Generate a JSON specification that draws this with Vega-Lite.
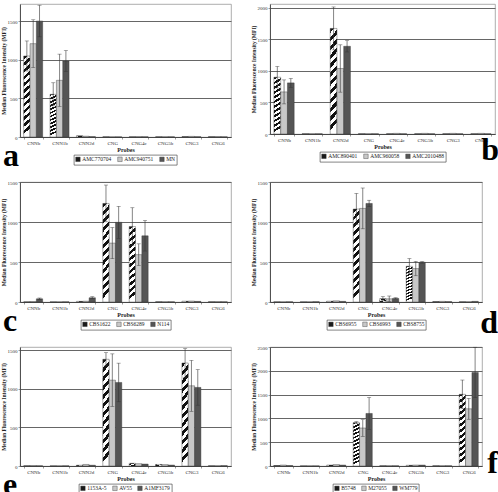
{
"$schema": "https://vega.github.io/schema/vega-lite/v6.json",
"background": "white",
"padding": {"left": 1, "top": 3, "right": 0, "bottom": 0},
"autosize": {"type": "pad"},
"params": [{"name": "hatch", "value": {"gradient": "linear", "x1": 0, "y1": 0, "x2": 0.07, "y2": 1, "stops": [
{"offset": 0, "color": "#111"}, {"offset": 0.04167, "color": "#111"},
{"offset": 0.04167, "color": "#fff"}, {"offset": 0.08333, "color": "#fff"},
{"offset": 0.08333, "color": "#111"}, {"offset": 0.125, "color": "#111"},
{"offset": 0.125, "color": "#fff"}, {"offset": 0.16667, "color": "#fff"},
{"offset": 0.16667, "color": "#111"}, {"offset": 0.20833, "color": "#111"},
{"offset": 0.20833, "color": "#fff"}, {"offset": 0.25, "color": "#fff"},
{"offset": 0.25, "color": "#111"}, {"offset": 0.29167, "color": "#111"},
{"offset": 0.29167, "color": "#fff"}, {"offset": 0.33333, "color": "#fff"},
{"offset": 0.33333, "color": "#111"}, {"offset": 0.375, "color": "#111"},
{"offset": 0.375, "color": "#fff"}, {"offset": 0.41667, "color": "#fff"},
{"offset": 0.41667, "color": "#111"}, {"offset": 0.45833, "color": "#111"},
{"offset": 0.45833, "color": "#fff"}, {"offset": 0.5, "color": "#fff"},
{"offset": 0.5, "color": "#111"}, {"offset": 0.54167, "color": "#111"},
{"offset": 0.54167, "color": "#fff"}, {"offset": 0.58333, "color": "#fff"},
{"offset": 0.58333, "color": "#111"}, {"offset": 0.625, "color": "#111"},
{"offset": 0.625, "color": "#fff"}, {"offset": 0.66667, "color": "#fff"},
{"offset": 0.66667, "color": "#111"}, {"offset": 0.70833, "color": "#111"},
{"offset": 0.70833, "color": "#fff"}, {"offset": 0.75, "color": "#fff"},
{"offset": 0.75, "color": "#111"}, {"offset": 0.79167, "color": "#111"},
{"offset": 0.79167, "color": "#fff"}, {"offset": 0.83333, "color": "#fff"},
{"offset": 0.83333, "color": "#111"}, {"offset": 0.875, "color": "#111"},
{"offset": 0.875, "color": "#fff"}, {"offset": 0.91667, "color": "#fff"},
{"offset": 0.91667, "color": "#111"}, {"offset": 0.95833, "color": "#111"},
{"offset": 0.95833, "color": "#fff"}, {"offset": 1, "color": "#fff"}
]}}],
"columns": 2,
"bounds": "flush",
"spacing": {"row": 45, "column": 39},
"resolve": {"scale": {"xOffset": "independent", "fill": "independent", "x": "independent", "y": "independent"}, "legend": {"fill": "independent"}},
"concat": [
{
 "width": 211, "height": 133,
 "title": {"text": "a", "orient": "bottom", "anchor": "start", "frame": "group", "dx": -17, "dy": -28},
 "data": {"values": [
  {"p":"CNNb","s":"AMC770704","v":1052,"lo":857,"hi":1247},
  {"p":"CNNb","s":"AMC940751","v":1212,"lo":902,"hi":1522},
  {"p":"CNNb","s":"MN","v":1506,"lo":1301,"hi":1711},
  {"p":"CNN1b","s":"AMC770704","v":554,"lo":404,"hi":704},
  {"p":"CNN1b","s":"AMC940751","v":736,"lo":396,"hi":1076},
  {"p":"CNN1b","s":"MN","v":987,"lo":852,"hi":1122},
  {"p":"CNN2d","s":"AMC770704","v":15},{"p":"CNN2d","s":"AMC940751","v":10},{"p":"CNN2d","s":"MN","v":5},
  {"p":"CNG","s":"AMC770704","v":3},{"p":"CNG","s":"AMC940751","v":2},{"p":"CNG","s":"MN","v":2},
  {"p":"CNG4c","s":"AMC770704","v":3},{"p":"CNG4c","s":"AMC940751","v":5},{"p":"CNG4c","s":"MN","v":3},
  {"p":"CNG5b","s":"AMC770704","v":3},{"p":"CNG5b","s":"AMC940751","v":3},{"p":"CNG5b","s":"MN","v":3},
  {"p":"CNG3","s":"AMC770704","v":5},{"p":"CNG3","s":"AMC940751","v":8},{"p":"CNG3","s":"MN","v":4},
  {"p":"CNG6","s":"AMC770704","v":4},{"p":"CNG6","s":"AMC940751","v":6},{"p":"CNG6","s":"MN","v":3}
 ]},
 "encoding": {
  "x": {"field": "p", "type": "nominal", "title": "Probes", "scale": {"domain": ["CNNb","CNN1b","CNN2d","CNG","CNG4c","CNG5b","CNG3","CNG6"], "paddingInner": 0.28, "paddingOuter": 0.14}},
  "xOffset": {"field": "s", "type": "nominal", "scale": {"domain": ["AMC770704","AMC940751","MN"]}}
 },
 "layer": [
  {"mark": {"type": "bar", "stroke": "#333", "strokeWidth": 0.4},
   "encoding": {
    "y": {"field": "v", "type": "quantitative", "stack": null, "title": "Median Fluorescence Intensity (MFI)", "scale": {"domain": [0, 1727], "nice": false}, "axis": {"values": [0, 500, 1000, 1500], "format": "d", "labelOverlap": false, "grid": true}},
    "fill": {"field": "s", "type": "nominal", "scale": {"domain": ["AMC770704","AMC940751","MN"], "range": ["#1a1a1a", "#c8c8c8", "#555555"]}, "legend": {"title": null}, "condition": {"test": "datum.s === 'AMC770704'", "value": {"expr": "hatch"}}}
   }},
  {"transform": [{"filter": "isValid(datum.hi)"}], "mark": {"type": "rule", "color": "#333", "strokeWidth": 0.6},
   "encoding": {"y": {"field": "lo", "type": "quantitative", "title": "Median Fluorescence Intensity (MFI)", "axis": {"values": [0, 500, 1000, 1500], "format": "d", "labelOverlap": false, "grid": true}}, "y2": {"field": "hi"}}},
  {"transform": [{"filter": "isValid(datum.hi)"}], "mark": {"type": "tick", "color": "#333", "thickness": 0.6, "size": 4},
   "encoding": {"y": {"field": "hi", "type": "quantitative", "title": "Median Fluorescence Intensity (MFI)", "axis": {"values": [0, 500, 1000, 1500], "format": "d", "labelOverlap": false, "grid": true}}}},
  {"transform": [{"filter": "isValid(datum.hi)"}], "mark": {"type": "tick", "color": "#333", "thickness": 0.6, "size": 4},
   "encoding": {"y": {"field": "lo", "type": "quantitative", "title": "Median Fluorescence Intensity (MFI)", "axis": {"values": [0, 500, 1000, 1500], "format": "d", "labelOverlap": false, "grid": true}}}}
 ]
},
{
 "width": 225, "height": 130,
 "title": {"text": "b", "orient": "bottom", "anchor": "end", "frame": "group", "dx": 4, "dy": -31},
 "data": {"values": [
  {"p":"CNNb","s":"AMC890401","v":900,"lo":730,"hi":1070},
  {"p":"CNNb","s":"AMC960058","v":667,"lo":477,"hi":857},
  {"p":"CNNb","s":"AMC2010488","v":810,"lo":740,"hi":880},
  {"p":"CNN1b","s":"AMC890401","v":4},{"p":"CNN1b","s":"AMC960058","v":4},{"p":"CNN1b","s":"AMC2010488","v":4},
  {"p":"CNN2d","s":"AMC890401","v":1673,"lo":1333,"hi":2013},
  {"p":"CNN2d","s":"AMC960058","v":1038,"lo":663,"hi":1413},
  {"p":"CNN2d","s":"AMC2010488","v":1390,"lo":1300,"hi":1480},
  {"p":"CNG","s":"AMC890401","v":4},{"p":"CNG","s":"AMC960058","v":4},{"p":"CNG","s":"AMC2010488","v":4},
  {"p":"CNG4c","s":"AMC890401","v":4},{"p":"CNG4c","s":"AMC960058","v":10},{"p":"CNG4c","s":"AMC2010488","v":4},
  {"p":"CNG5b","s":"AMC890401","v":4},{"p":"CNG5b","s":"AMC960058","v":10},{"p":"CNG5b","s":"AMC2010488","v":4},
  {"p":"CNG3","s":"AMC890401","v":4},{"p":"CNG3","s":"AMC960058","v":10},{"p":"CNG3","s":"AMC2010488","v":4},
  {"p":"CNG6","s":"AMC890401","v":4},{"p":"CNG6","s":"AMC960058","v":10},{"p":"CNG6","s":"AMC2010488","v":4}
 ]},
 "encoding": {
  "x": {"field": "p", "type": "nominal", "title": "Probes", "scale": {"domain": ["CNNb","CNN1b","CNN2d","CNG","CNG4c","CNG5b","CNG3","CNG6"], "paddingInner": 0.28, "paddingOuter": 0.14}},
  "xOffset": {"field": "s", "type": "nominal", "scale": {"domain": ["AMC890401","AMC960058","AMC2010488"]}}
 },
 "layer": [
  {"mark": {"type": "bar", "stroke": "#333", "strokeWidth": 0.4},
   "encoding": {
    "y": {"field": "v", "type": "quantitative", "stack": null, "title": "Median Fluorescence Intensity (MFI)", "scale": {"domain": [0, 2060], "nice": false}, "axis": {"values": [0, 500, 1000, 1500, 2000], "format": "d", "labelOverlap": false, "grid": true}},
    "fill": {"field": "s", "type": "nominal", "scale": {"domain": ["AMC890401","AMC960058","AMC2010488"], "range": ["#1a1a1a", "#c8c8c8", "#555555"]}, "legend": {"title": null}, "condition": {"test": "datum.s === 'AMC890401'", "value": {"expr": "hatch"}}}
   }},
  {"transform": [{"filter": "isValid(datum.hi)"}], "mark": {"type": "rule", "color": "#333", "strokeWidth": 0.6},
   "encoding": {"y": {"field": "lo", "type": "quantitative", "title": "Median Fluorescence Intensity (MFI)", "axis": {"values": [0, 500, 1000, 1500, 2000], "format": "d", "labelOverlap": false, "grid": true}}, "y2": {"field": "hi"}}},
  {"transform": [{"filter": "isValid(datum.hi)"}], "mark": {"type": "tick", "color": "#333", "thickness": 0.6, "size": 4},
   "encoding": {"y": {"field": "hi", "type": "quantitative", "title": "Median Fluorescence Intensity (MFI)", "axis": {"values": [0, 500, 1000, 1500, 2000], "format": "d", "labelOverlap": false, "grid": true}}}},
  {"transform": [{"filter": "isValid(datum.hi)"}], "mark": {"type": "tick", "color": "#333", "thickness": 0.6, "size": 4},
   "encoding": {"y": {"field": "lo", "type": "quantitative", "title": "Median Fluorescence Intensity (MFI)", "axis": {"values": [0, 500, 1000, 1500, 2000], "format": "d", "labelOverlap": false, "grid": true}}}}
 ]
},
{
 "width": 211, "height": 120,
 "title": {"text": "c", "orient": "bottom", "anchor": "start", "frame": "group", "dx": -17, "dy": -28},
 "data": {"values": [
  {"p":"CNNb","s":"CBS1622","v":2},{"p":"CNNb","s":"CBS6289","v":5},{"p":"CNNb","s":"N114","v":40,"lo":30,"hi":50},
  {"p":"CNN1b","s":"CBS1622","v":2},{"p":"CNN1b","s":"CBS6289","v":2},{"p":"CNN1b","s":"N114","v":3},
  {"p":"CNN2d","s":"CBS1622","v":8},{"p":"CNN2d","s":"CBS6289","v":10},{"p":"CNN2d","s":"N114","v":53,"lo":40,"hi":66},
  {"p":"CNG","s":"CBS1622","v":1232,"lo":1002,"hi":1462},
  {"p":"CNG","s":"CBS6289","v":736,"lo":541,"hi":931},
  {"p":"CNG","s":"N114","v":996,"lo":796,"hi":1196},
  {"p":"CNG4c","s":"CBS1622","v":943,"lo":708,"hi":1178},
  {"p":"CNG4c","s":"CBS6289","v":592,"lo":457,"hi":727},
  {"p":"CNG4c","s":"N114","v":827,"lo":637,"hi":1017},
  {"p":"CNG5b","s":"CBS1622","v":3},{"p":"CNG5b","s":"CBS6289","v":3},{"p":"CNG5b","s":"N114","v":3},
  {"p":"CNG3","s":"CBS1622","v":10},{"p":"CNG3","s":"CBS6289","v":12},{"p":"CNG3","s":"N114","v":8},
  {"p":"CNG6","s":"CBS1622","v":3},{"p":"CNG6","s":"CBS6289","v":5},{"p":"CNG6","s":"N114","v":3}
 ]},
 "encoding": {
  "x": {"field": "p", "type": "nominal", "title": "Probes", "scale": {"domain": ["CNNb","CNN1b","CNN2d","CNG","CNG4c","CNG5b","CNG3","CNG6"], "paddingInner": 0.28, "paddingOuter": 0.14}},
  "xOffset": {"field": "s", "type": "nominal", "scale": {"domain": ["CBS1622","CBS6289","N114"]}}
 },
 "layer": [
  {"mark": {"type": "bar", "stroke": "#333", "strokeWidth": 0.4},
   "encoding": {
    "y": {"field": "v", "type": "quantitative", "stack": null, "title": "Median Fluorescence Intensity (MFI)", "scale": {"domain": [0, 1500], "nice": false}, "axis": {"values": [0, 500, 1000, 1500], "format": "d", "labelOverlap": false, "grid": true}},
    "fill": {"field": "s", "type": "nominal", "scale": {"domain": ["CBS1622","CBS6289","N114"], "range": ["#1a1a1a", "#c8c8c8", "#555555"]}, "legend": {"title": null}, "condition": {"test": "datum.s === 'CBS1622'", "value": {"expr": "hatch"}}}
   }},
  {"transform": [{"filter": "isValid(datum.hi)"}], "mark": {"type": "rule", "color": "#333", "strokeWidth": 0.6},
   "encoding": {"y": {"field": "lo", "type": "quantitative", "title": "Median Fluorescence Intensity (MFI)", "axis": {"values": [0, 500, 1000, 1500], "format": "d", "labelOverlap": false, "grid": true}}, "y2": {"field": "hi"}}},
  {"transform": [{"filter": "isValid(datum.hi)"}], "mark": {"type": "tick", "color": "#333", "thickness": 0.6, "size": 4},
   "encoding": {"y": {"field": "hi", "type": "quantitative", "title": "Median Fluorescence Intensity (MFI)", "axis": {"values": [0, 500, 1000, 1500], "format": "d", "labelOverlap": false, "grid": true}}}},
  {"transform": [{"filter": "isValid(datum.hi)"}], "mark": {"type": "tick", "color": "#333", "thickness": 0.6, "size": 4},
   "encoding": {"y": {"field": "lo", "type": "quantitative", "title": "Median Fluorescence Intensity (MFI)", "axis": {"values": [0, 500, 1000, 1500], "format": "d", "labelOverlap": false, "grid": true}}}}
 ]
},
{
 "width": 212, "height": 120,
 "title": {"text": "d", "orient": "bottom", "anchor": "end", "frame": "group", "dx": 16, "dy": -26},
 "data": {"values": [
  {"p":"CNNb","s":"CBS6955","v":2},{"p":"CNNb","s":"CBS6993","v":2},{"p":"CNNb","s":"CBS8755","v":3},
  {"p":"CNN1b","s":"CBS6955","v":2},{"p":"CNN1b","s":"CBS6993","v":2},{"p":"CNN1b","s":"CBS8755","v":4},
  {"p":"CNN2d","s":"CBS6955","v":10},{"p":"CNN2d","s":"CBS6993","v":15},{"p":"CNN2d","s":"CBS8755","v":8},
  {"p":"CNG","s":"CBS6955","v":1162,"lo":967,"hi":1357},
  {"p":"CNG","s":"CBS6993","v":1170,"lo":915,"hi":1425},
  {"p":"CNG","s":"CBS8755","v":1232,"lo":1192,"hi":1272},
  {"p":"CNG4c","s":"CBS6955","v":41,"lo":16,"hi":66},
  {"p":"CNG4c","s":"CBS6993","v":40,"lo":5,"hi":75},
  {"p":"CNG4c","s":"CBS8755","v":45,"lo":37,"hi":53},
  {"p":"CNG5b","s":"CBS6955","v":447,"lo":352,"hi":542},
  {"p":"CNG5b","s":"CBS6993","v":418,"lo":328,"hi":508},
  {"p":"CNG5b","s":"CBS8755","v":496,"lo":486,"hi":506},
  {"p":"CNG3","s":"CBS6955","v":5},{"p":"CNG3","s":"CBS6993","v":8},{"p":"CNG3","s":"CBS8755","v":5},
  {"p":"CNG6","s":"CBS6955","v":3},{"p":"CNG6","s":"CBS6993","v":3},{"p":"CNG6","s":"CBS8755","v":8}
 ]},
 "encoding": {
  "x": {"field": "p", "type": "nominal", "title": "Probes", "scale": {"domain": ["CNNb","CNN1b","CNN2d","CNG","CNG4c","CNG5b","CNG3","CNG6"], "paddingInner": 0.28, "paddingOuter": 0.14}},
  "xOffset": {"field": "s", "type": "nominal", "scale": {"domain": ["CBS6955","CBS6993","CBS8755"]}}
 },
 "layer": [
  {"mark": {"type": "bar", "stroke": "#333", "strokeWidth": 0.4},
   "encoding": {
    "y": {"field": "v", "type": "quantitative", "stack": null, "title": "Median Fluorescence Intensity (MFI)", "scale": {"domain": [0, 1500], "nice": false}, "axis": {"values": [0, 500, 1000, 1500], "format": "d", "labelOverlap": false, "grid": true}},
    "fill": {"field": "s", "type": "nominal", "scale": {"domain": ["CBS6955","CBS6993","CBS8755"], "range": ["#1a1a1a", "#c8c8c8", "#555555"]}, "legend": {"title": null}, "condition": {"test": "datum.s === 'CBS6955'", "value": {"expr": "hatch"}}}
   }},
  {"transform": [{"filter": "isValid(datum.hi)"}], "mark": {"type": "rule", "color": "#333", "strokeWidth": 0.6},
   "encoding": {"y": {"field": "lo", "type": "quantitative", "title": "Median Fluorescence Intensity (MFI)", "axis": {"values": [0, 500, 1000, 1500], "format": "d", "labelOverlap": false, "grid": true}}, "y2": {"field": "hi"}}},
  {"transform": [{"filter": "isValid(datum.hi)"}], "mark": {"type": "tick", "color": "#333", "thickness": 0.6, "size": 4},
   "encoding": {"y": {"field": "hi", "type": "quantitative", "title": "Median Fluorescence Intensity (MFI)", "axis": {"values": [0, 500, 1000, 1500], "format": "d", "labelOverlap": false, "grid": true}}}},
  {"transform": [{"filter": "isValid(datum.hi)"}], "mark": {"type": "tick", "color": "#333", "thickness": 0.6, "size": 4},
   "encoding": {"y": {"field": "lo", "type": "quantitative", "title": "Median Fluorescence Intensity (MFI)", "axis": {"values": [0, 500, 1000, 1500], "format": "d", "labelOverlap": false, "grid": true}}}}
 ]
},
{
 "width": 211, "height": 119,
 "title": {"text": "e", "orient": "bottom", "anchor": "start", "frame": "group", "dx": -17, "dy": -28},
 "data": {"values": [
  {"p":"CNNb","s":"1153A-5","v":3},{"p":"CNNb","s":"AV55","v":5},{"p":"CNNb","s":"A1MF3179","v":3},
  {"p":"CNN1b","s":"1153A-5","v":2},{"p":"CNN1b","s":"AV55","v":2},{"p":"CNN1b","s":"A1MF3179","v":3},
  {"p":"CNN2d","s":"1153A-5","v":10},{"p":"CNN2d","s":"AV55","v":20},{"p":"CNN2d","s":"A1MF3179","v":10},
  {"p":"CNG","s":"1153A-5","v":1381,"lo":1296,"hi":1466},
  {"p":"CNG","s":"AV55","v":1111,"lo":771,"hi":1451},
  {"p":"CNG","s":"A1MF3179","v":1081,"lo":831,"hi":1331},
  {"p":"CNG4c","s":"1153A-5","v":35},{"p":"CNG4c","s":"AV55","v":30},{"p":"CNG4c","s":"A1MF3179","v":25},
  {"p":"CNG5b","s":"1153A-5","v":20},{"p":"CNG5b","s":"AV55","v":18},{"p":"CNG5b","s":"A1MF3179","v":12},
  {"p":"CNG3","s":"1153A-5","v":1333,"lo":1148,"hi":1518},
  {"p":"CNG3","s":"AV55","v":1038,"lo":708,"hi":1368},
  {"p":"CNG3","s":"A1MF3179","v":1017,"lo":787,"hi":1247},
  {"p":"CNG6","s":"1153A-5","v":3},{"p":"CNG6","s":"AV55","v":3},{"p":"CNG6","s":"A1MF3179","v":5}
 ]},
 "encoding": {
  "x": {"field": "p", "type": "nominal", "title": "Probes", "scale": {"domain": ["CNNb","CNN1b","CNN2d","CNG","CNG4c","CNG5b","CNG3","CNG6"], "paddingInner": 0.28, "paddingOuter": 0.14}},
  "xOffset": {"field": "s", "type": "nominal", "scale": {"domain": ["1153A-5","AV55","A1MF3179"]}}
 },
 "layer": [
  {"mark": {"type": "bar", "stroke": "#333", "strokeWidth": 0.4},
   "encoding": {
    "y": {"field": "v", "type": "quantitative", "stack": null, "title": "Median Fluorescence Intensity (MFI)", "scale": {"domain": [0, 1540], "nice": false}, "axis": {"values": [0, 500, 1000, 1500], "format": "d", "labelOverlap": false, "grid": true}},
    "fill": {"field": "s", "type": "nominal", "scale": {"domain": ["1153A-5","AV55","A1MF3179"], "range": ["#1a1a1a", "#c8c8c8", "#555555"]}, "legend": {"title": null}, "condition": {"test": "datum.s === '1153A-5'", "value": {"expr": "hatch"}}}
   }},
  {"transform": [{"filter": "isValid(datum.hi)"}], "mark": {"type": "rule", "color": "#333", "strokeWidth": 0.6},
   "encoding": {"y": {"field": "lo", "type": "quantitative", "title": "Median Fluorescence Intensity (MFI)", "axis": {"values": [0, 500, 1000, 1500], "format": "d", "labelOverlap": false, "grid": true}}, "y2": {"field": "hi"}}},
  {"transform": [{"filter": "isValid(datum.hi)"}], "mark": {"type": "tick", "color": "#333", "thickness": 0.6, "size": 4},
   "encoding": {"y": {"field": "hi", "type": "quantitative", "title": "Median Fluorescence Intensity (MFI)", "axis": {"values": [0, 500, 1000, 1500], "format": "d", "labelOverlap": false, "grid": true}}}},
  {"transform": [{"filter": "isValid(datum.hi)"}], "mark": {"type": "tick", "color": "#333", "thickness": 0.6, "size": 4},
   "encoding": {"y": {"field": "lo", "type": "quantitative", "title": "Median Fluorescence Intensity (MFI)", "axis": {"values": [0, 500, 1000, 1500], "format": "d", "labelOverlap": false, "grid": true}}}}
 ]
},
{
 "width": 212, "height": 119,
 "title": {"text": "f", "orient": "bottom", "anchor": "end", "frame": "group", "dx": 16, "dy": -50},
 "data": {"values": [
  {"p":"CNNb","s":"B5748","v":10},{"p":"CNNb","s":"M27055","v":20},{"p":"CNNb","s":"WM779","v":10},
  {"p":"CNN1b","s":"B5748","v":3},{"p":"CNN1b","s":"M27055","v":3},{"p":"CNN1b","s":"WM779","v":3},
  {"p":"CNN2d","s":"B5748","v":20},{"p":"CNN2d","s":"M27055","v":30},{"p":"CNN2d","s":"WM779","v":20},
  {"p":"CNG","s":"B5748","v":910,"lo":890,"hi":930},
  {"p":"CNG","s":"M27055","v":798,"lo":623,"hi":973},
  {"p":"CNG","s":"WM779","v":1104,"lo":769,"hi":1439},
  {"p":"CNG4c","s":"B5748","v":5},{"p":"CNG4c","s":"M27055","v":5},{"p":"CNG4c","s":"WM779","v":5},
  {"p":"CNG5b","s":"B5748","v":15},{"p":"CNG5b","s":"M27055","v":20},{"p":"CNG5b","s":"WM779","v":20},
  {"p":"CNG3","s":"B5748","v":5},{"p":"CNG3","s":"M27055","v":5},{"p":"CNG3","s":"WM779","v":5},
  {"p":"CNG6","s":"B5748","v":1506,"lo":1206,"hi":1806},
  {"p":"CNG6","s":"M27055","v":1202,"lo":982,"hi":1422},
  {"p":"CNG6","s":"WM779","v":1965,"lo":1435,"hi":2495}
 ]},
 "encoding": {
  "x": {"field": "p", "type": "nominal", "title": "Probes", "scale": {"domain": ["CNNb","CNN1b","CNN2d","CNG","CNG4c","CNG5b","CNG3","CNG6"], "paddingInner": 0.28, "paddingOuter": 0.14}},
  "xOffset": {"field": "s", "type": "nominal", "scale": {"domain": ["B5748","M27055","WM779"]}}
 },
 "layer": [
  {"mark": {"type": "bar", "stroke": "#333", "strokeWidth": 0.4},
   "encoding": {
    "y": {"field": "v", "type": "quantitative", "stack": null, "title": "Median Fluorescence Intensity (MFI)", "scale": {"domain": [0, 2500], "nice": false}, "axis": {"values": [0, 500, 1000, 1500, 2000, 2500], "format": "d", "labelOverlap": false, "grid": true}},
    "fill": {"field": "s", "type": "nominal", "scale": {"domain": ["B5748","M27055","WM779"], "range": ["#1a1a1a", "#c8c8c8", "#555555"]}, "legend": {"title": null}, "condition": {"test": "datum.s === 'B5748'", "value": {"expr": "hatch"}}}
   }},
  {"transform": [{"filter": "isValid(datum.hi)"}], "mark": {"type": "rule", "color": "#333", "strokeWidth": 0.6},
   "encoding": {"y": {"field": "lo", "type": "quantitative", "title": "Median Fluorescence Intensity (MFI)", "axis": {"values": [0, 500, 1000, 1500, 2000, 2500], "format": "d", "labelOverlap": false, "grid": true}}, "y2": {"field": "hi"}}},
  {"transform": [{"filter": "isValid(datum.hi)"}], "mark": {"type": "tick", "color": "#333", "thickness": 0.6, "size": 4},
   "encoding": {"y": {"field": "hi", "type": "quantitative", "title": "Median Fluorescence Intensity (MFI)", "axis": {"values": [0, 500, 1000, 1500, 2000, 2500], "format": "d", "labelOverlap": false, "grid": true}}}},
  {"transform": [{"filter": "isValid(datum.hi)"}], "mark": {"type": "tick", "color": "#333", "thickness": 0.6, "size": 4},
   "encoding": {"y": {"field": "lo", "type": "quantitative", "title": "Median Fluorescence Intensity (MFI)", "axis": {"values": [0, 500, 1000, 1500, 2000, 2500], "format": "d", "labelOverlap": false, "grid": true}}}}
 ]
}
],
"config": {
 "font": "Liberation Serif",
 "view": {"stroke": "#999", "strokeWidth": 0.8},
 "axis": {"labelFont": "Liberation Serif", "titleFont": "Liberation Serif", "labelColor": "#333", "titleColor": "#222", "domainColor": "#444", "tickColor": "#555", "domainWidth": 0.9, "tickWidth": 0.6, "tickSize": 2, "labelFontSize": 5, "titleFontWeight": "bold"},
 "axisY": {"gridColor": "#666", "gridWidth": 1, "labelPadding": 1, "titlePadding": 0.5, "titleFontSize": 5.5},
 "axisX": {"grid": false, "labelAngle": 0, "tickBand": "extent", "labelPadding": 1.5, "titlePadding": 1, "titleFontSize": 6},
 "legend": {"orient": "bottom", "direction": "horizontal", "labelFont": "Liberation Serif", "labelFontSize": 5.5, "labelColor": "#222", "symbolType": "square", "symbolSize": 20, "symbolStrokeColor": "#333", "symbolStrokeWidth": 0.4, "strokeColor": "#333", "strokeWidth": 0.6, "padding": 1.2, "columnPadding": 4, "labelOffset": 1.5, "offset": 2, "layout": {"bottom": {"anchor": "middle"}}},
 "title": {"font": "Liberation Serif", "fontSize": 32, "fontWeight": "bold", "color": "#000"}
}
}
